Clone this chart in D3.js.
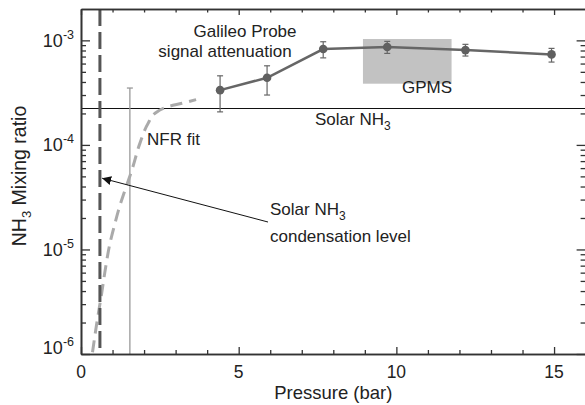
<!DOCTYPE html>
<html>
<head>
<meta charset="utf-8">
<script src="https://cdn.jsdelivr.net/npm/d3@7"></script>
<style>
  body { margin: 0; background: #fff; }
  svg { font-family: "Liberation Sans", Arial, sans-serif; }
  .axis path, .axis line { stroke: #333; }
  .axis text { display: none; }
</style>
</head>
<body>
<svg id="chart" width="585" height="405"></svg>
<script>
// Galileo probe signal attenuation points (pressure in bar, NH3 mixing ratio)
const probeP = [4.41, 5.90, 7.68, 9.71, 12.19, 14.92];
const probeMR = [3.34e-4, 4.39e-4, 8.26e-4, 8.63e-4, 8.07e-4, 7.34e-4];
const probeHi = [4.58e-4, 5.71e-4, 9.7e-4, 9.78e-4, 9.16e-4, 8.38e-4];
const probeLo = [2.07e-4, 3.0e-4, 6.8e-4, 7.5e-4, 7.08e-4, 6.2e-4];

// NFR fit curve
const nfrP = [0.365, 0.50, 0.656, 0.783, 0.92, 1.08, 1.19, 1.395, 1.61, 1.87, 2.13, 2.35, 2.76, 3.2, 3.65];
const nfrMR = [1.04e-6, 1.97e-6, 3.82e-6, 6.8e-6, 1.15e-5, 1.79e-5, 2.38e-5, 3.69e-5, 5.7e-5, 1.04e-4, 1.61e-4, 2.01e-4, 2.32e-4, 2.5e-4, 2.71e-4];

// NFR upper limit bar
const nfrBarP = 1.55;
const nfrBarTop = 3.5e-4;

// GPMS range box
const gpmsP = [8.94, 11.75];
const gpmsMR = [3.85e-4, 1.03e-3];

// reference levels
const solarMR = 2.23e-4;
const condP = 0.6;

// arrow: from label to condensation line
const arrowP = [5.93, 0.67];
const arrowMR = [1.83e-5, 4.8e-5];

const xMajor = [0, 5, 10, 15];
const xMinor = d3.range(0, 17).filter(d => d % 5 !== 0);
const yMajor = [1e-6, 1e-5, 1e-4, 1e-3];
const yMinor = [];
[1e-6, 1e-5, 1e-4, 1e-3].forEach(d => {
    for (let k = 2; k <= 9; k++) if (d * k < 1.99e-3) yMinor.push(d * k);
});

const svg = d3.select('#chart');
const pLeft = 81, pRight = 585.6, pTop = 9, pBottom = 354;

const x = d3.scaleLinear().domain([0, 16]).range([pLeft, pRight]);
const y = d3.scaleLog().domain([1e-6, Math.pow(10, -2.7)]).range([pBottom, pTop]);

// GPMS box
svg.append('rect')
    .attr('x', x(gpmsP[0]))
    .attr('y', y(gpmsMR[1]))
    .attr('width', x(gpmsP[1]) - x(gpmsP[0]))
    .attr('height', y(gpmsMR[0]) - y(gpmsMR[1]))
    .attr('fill', '#c2c2c2');

// solar NH3 line
svg.append('line')
    .attr('x1', pLeft).attr('x2', pRight)
    .attr('y1', y(solarMR)).attr('y2', y(solarMR))
    .attr('stroke', '#111').attr('stroke-width', 1.2);

// NFR upper limit bar
svg.append('line')
    .attr('x1', x(nfrBarP)).attr('x2', x(nfrBarP))
    .attr('y1', y(nfrBarTop)).attr('y2', pBottom)
    .attr('stroke', '#999').attr('stroke-width', 1.3);
svg.append('line')
    .attr('x1', x(nfrBarP) - 3).attr('x2', x(nfrBarP) + 3)
    .attr('y1', y(nfrBarTop)).attr('y2', y(nfrBarTop))
    .attr('stroke', '#999').attr('stroke-width', 1.3);

// NFR fit curve
const nfrLine = d3.line().x(d => x(d[0])).y(d => y(d[1])).curve(d3.curveMonotoneY);
svg.append('path')
    .datum(d3.zip(nfrP, nfrMR))
    .attr('d', nfrLine)
    .attr('fill', 'none')
    .attr('stroke', '#aaa')
    .attr('stroke-width', 3)
    .attr('stroke-dasharray', '12,7');

// condensation level
svg.append('line')
    .attr('x1', x(condP)).attr('x2', x(condP))
    .attr('y1', pTop).attr('y2', pBottom)
    .attr('stroke', '#555').attr('stroke-width', 3)
    .attr('stroke-dasharray', '17,6');

// probe data
const probe = probeP.map((p, i) => ({p: p, mr: probeMR[i], hi: probeHi[i], lo: probeLo[i]}));
const g = svg.append('g');
g.selectAll('.err').data(probe).join('line')
    .attr('x1', d => x(d.p)).attr('x2', d => x(d.p))
    .attr('y1', d => y(d.hi)).attr('y2', d => y(d.lo))
    .attr('stroke', '#666').attr('stroke-width', 1.2);
['hi', 'lo'].forEach(k => {
    g.selectAll('.cap-' + k).data(probe).join('line')
        .attr('class', 'cap-' + k)
        .attr('x1', d => x(d.p) - 3).attr('x2', d => x(d.p) + 3)
        .attr('y1', d => y(d[k])).attr('y2', d => y(d[k]))
        .attr('stroke', '#666').attr('stroke-width', 1.2);
});
g.append('path')
    .datum(probe)
    .attr('d', d3.line().x(d => x(d.p)).y(d => y(d.mr)))
    .attr('fill', 'none').attr('stroke', '#666').attr('stroke-width', 2.5);
g.selectAll('circle').data(probe).join('circle')
    .attr('cx', d => x(d.p)).attr('cy', d => y(d.mr)).attr('r', 4.3)
    .attr('fill', '#606060');

// arrow
svg.append('defs').append('marker')
    .attr('id', 'head').attr('viewBox', '0 0 10 10')
    .attr('refX', 10).attr('refY', 5)
    .attr('markerWidth', 9).attr('markerHeight', 9)
    .attr('markerUnits', 'userSpaceOnUse')
    .attr('orient', 'auto')
    .append('path').attr('d', 'M0,0L10,5L0,10Z').attr('fill', '#111');
svg.append('line')
    .attr('x1', x(arrowP[0])).attr('y1', y(arrowMR[0]))
    .attr('x2', x(arrowP[1])).attr('y2', y(arrowMR[1]))
    .attr('stroke', '#111').attr('stroke-width', 1)
    .attr('marker-end', 'url(#head)');

// axes frame with inward ticks
function addAxis(axis, tx, ty) {
    svg.append('g').attr('class', 'axis')
        .attr('transform', `translate(${tx},${ty})`)
        .call(axis)
        .call(s => s.selectAll('line').attr('stroke-width', 1.3))
        .call(s => s.select('.domain').attr('stroke-width', 1.6));
}
addAxis(d3.axisBottom(x).tickValues(xMajor).tickSize(-7).tickSizeOuter(0), 0, pBottom);
addAxis(d3.axisBottom(x).tickValues(xMinor).tickSize(-4).tickSizeOuter(0), 0, pBottom);
addAxis(d3.axisTop(x).tickValues(xMajor).tickSize(-6).tickSizeOuter(0), 0, pTop);
addAxis(d3.axisTop(x).tickValues(xMinor).tickSize(-3.5).tickSizeOuter(0), 0, pTop);
addAxis(d3.axisLeft(y).tickValues(yMajor).tickSize(-9).tickSizeOuter(0), pLeft, 0);
addAxis(d3.axisLeft(y).tickValues(yMinor).tickSize(-5).tickSizeOuter(0), pLeft, 0);
addAxis(d3.axisRight(y).tickValues(yMajor).tickSize(-9).tickSizeOuter(0), pRight, 0);
addAxis(d3.axisRight(y).tickValues(yMinor).tickSize(-5).tickSizeOuter(0), pRight, 0);

// tick labels
svg.selectAll('.xlab').data(xMajor).join('text')
    .attr('class', 'xlab')
    .attr('x', d => x(d)).attr('y', 378)
    .attr('text-anchor', 'middle')
    .attr('font-size', 17.5).attr('fill', '#222')
    .text(d => d);
const ylab = svg.selectAll('.ylab').data(yMajor).join('text')
    .attr('class', 'ylab')
    .attr('x', 74).attr('y', d => Math.min(y(d) + 6.5, pBottom))
    .attr('text-anchor', 'end')
    .attr('font-size', 18).attr('fill', '#222');
ylab.append('tspan').text('10');
ylab.append('tspan').attr('font-size', 12.5).attr('dy', -8)
    .text(d => Math.round(Math.log10(d)));

// axis titles
svg.append('text')
    .attr('x', (pLeft + pRight) / 2).attr('y', 399)
    .attr('text-anchor', 'middle').attr('font-size', 18.5).attr('fill', '#222')
    .text('Pressure (bar)');
const yt = svg.append('text')
    .attr('transform', 'translate(26,176) rotate(-90)')
    .attr('text-anchor', 'middle').attr('font-size', 19.5).attr('fill', '#222');
yt.append('tspan').text('NH');
yt.append('tspan').attr('font-size', 13).attr('dy', 5).text('3');
yt.append('tspan').attr('dy', -5).text(' Mixing ratio');

// annotations
function label(tx, ty, parts, size) {
    const t = svg.append('text').attr('x', tx).attr('y', ty)
        .attr('font-size', size || 17).attr('fill', '#222');
    parts.forEach(p => {
        const s = t.append('tspan').text(p.t);
        if (p.sub) s.attr('font-size', 12).attr('dy', 5);
    });
    return t;
}
label(245, 37, [{t: 'Galileo Probe'}]).attr('text-anchor', 'middle');
label(225, 57, [{t: 'signal attenuation'}]).attr('text-anchor', 'middle');
label(452, 93, [{t: 'GPMS'}]).attr('text-anchor', 'end');
label(315, 125, [{t: 'Solar NH'}, {t: '3', sub: true}]);
label(147, 145, [{t: 'NFR fit'}]);
label(270, 215, [{t: 'Solar NH'}, {t: '3', sub: true}]);
label(270, 242, [{t: 'condensation level'}]);
</script>
</body>
</html>
